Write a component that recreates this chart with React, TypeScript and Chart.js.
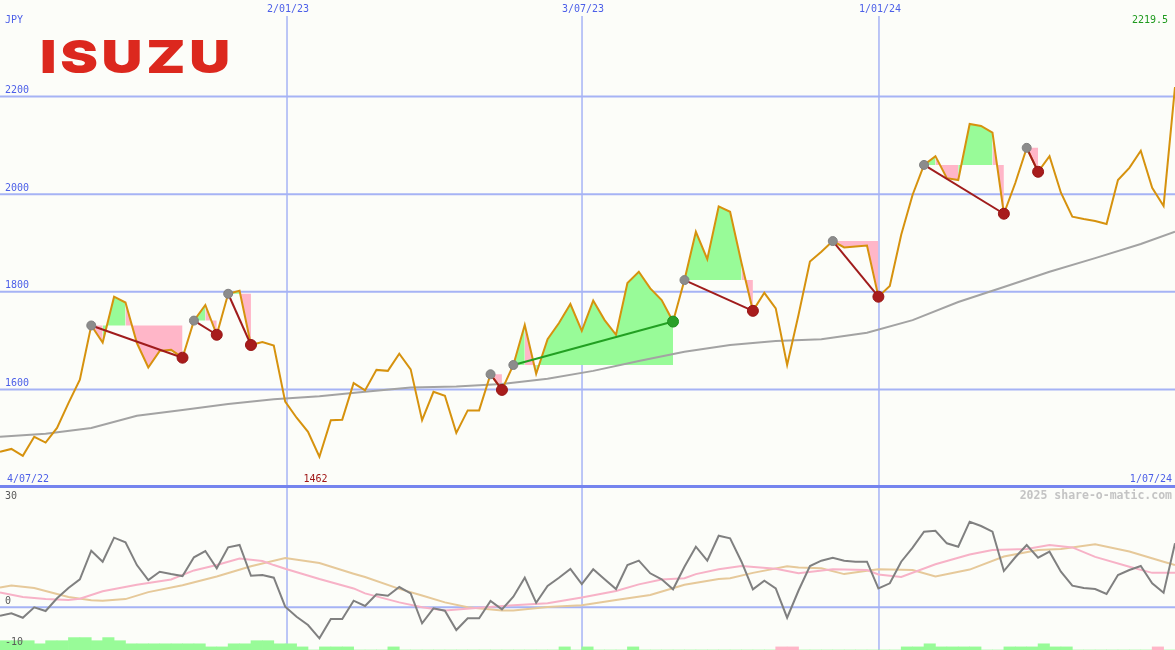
import React, { useEffect, useRef } from 'react';
import { Chart, registerables } from 'chart.js';

Chart.register(...registerables);

// ---------- DATA ----------
const companyName = 'ISUZU';
const currency = 'JPY';
const startLabel = '4/07/22';
const endLabel = '1/07/24';
const watermark = '2025 share-o-matic.com';

// weekly closes, index 0..103
const priceValues: number[] = [
  1472, 1478, 1464, 1503, 1491, 1521, 1572, 1620, 1731, 1696,
  1790, 1778, 1695, 1645, 1679, 1681, 1665, 1741, 1773, 1712,
  1796, 1802, 1691, 1697, 1690, 1575, 1542, 1513, 1462, 1537,
  1538, 1613, 1598, 1640, 1638, 1673, 1641, 1537, 1595, 1587,
  1511, 1557, 1557, 1631, 1599, 1650, 1732, 1632, 1703, 1736,
  1775, 1720, 1782, 1742, 1712, 1818, 1841, 1807, 1783, 1739,
  1824, 1923, 1867, 1975, 1964, 1859, 1761, 1798, 1766, 1650,
  1753, 1862, 1882, 1904, 1891, 1893, 1895, 1790, 1812, 1917,
  1999, 2060, 2078, 2033, 2029, 2144, 2140, 2126, 1960, 2023,
  2095, 2046, 2078, 2003, 1954, 1949, 1945, 1939, 2029, 2054,
  2089, 2013, 1976, 2219.5,
];

// long moving average (read at sample weeks)
const maIdx: number[] = [0, 4, 8, 12, 16, 20, 24, 28, 32, 36, 40, 44, 48, 52, 56, 60, 64, 68, 72, 76, 80, 84, 88, 92, 96, 100, 103];
const maValues: number[] = [1503, 1509, 1521, 1546, 1558, 1570, 1580, 1586, 1595, 1604, 1606, 1611, 1622, 1638, 1658, 1677, 1691, 1699, 1703, 1716, 1742, 1779, 1810, 1841, 1869, 1898, 1923];

// trades: entry / exit week index
const tradeEntries: number[] = [8, 17, 20, 43, 45, 60, 73, 81, 90];
const tradeExits: number[] = [16, 19, 22, 44, 59, 66, 77, 88, 91];

const priceGrid: number[] = [1600, 1800, 2000, 2200];
const dateIdx: number[] = [25.16, 51.02, 77.05];
const dateLabels: string[] = ['2/01/23', '3/07/23', '1/01/24'];

// lower panel oscillator
const oscValues: number[] = [
  -2.05, -1.46, -2.54, 0, -0.9, 2.2, 4.7, 6.83, 13.8, 11.12,
  16.98, 15.85, 10.3, 6.66, 8.68, 8.12, 7.63, 12.2, 13.73, 9.51,
  14.63, 15.2, 7.7, 7.88, 7.22, 0.15, -2.29, -4.32, -7.56, -2.85,
  -2.85, 1.61, 0.32, 3.17, 2.83, 4.95, 3.41, -3.9, -0.24, -0.83,
  -5.54, -2.68, -2.68, 1.54, -0.49, 2.59, 7.22, 1.12, 5.2, 7.22,
  9.34, 5.68, 9.27, 6.83, 4.46, 10.32, 11.37, 8.29, 6.83, 4.39,
  9.9, 14.78, 11.37, 17.46, 16.83, 11.12, 4.39, 6.49, 4.63, -2.54,
  4.1, 10.07, 11.37, 12.1, 11.37, 11.12, 11.12, 4.63, 5.85, 11.12,
  14.54, 18.44, 18.68, 15.61, 14.78, 20.88, 19.83, 18.44, 8.85, 12.2,
  15.2, 12.1, 13.56, 8.68, 5.27, 4.7, 4.46, 3.24, 7.88, 9.1,
  10.07, 5.85, 3.56, 15.6,
];
const pinkIdx: number[] = [0, 2, 4, 6, 7, 9, 12, 15, 17, 19, 21, 23, 24, 25, 28, 31, 32, 35, 37, 39, 42, 45, 48, 51, 54, 56, 58, 60, 61, 63, 65, 68, 70, 73, 76, 77, 79, 82, 85, 87, 90, 92, 94, 96, 99, 101, 103];
const pinkValues: number[] = [3.6, 2.5, 2.0, 1.8, 2.1, 3.9, 5.5, 6.8, 9.0, 10.3, 11.9, 11.3, 10.3, 9.4, 6.9, 4.6, 3.4, 1.2, 0, -0.8, -0.1, 0.5, 1.0, 2.4, 4.0, 5.6, 6.8, 7.1, 8.1, 9.3, 10.1, 9.4, 8.3, 9.3, 9.1, 8.0, 7.4, 10.5, 12.9, 14.0, 14.2, 15.2, 14.6, 12.3, 9.9, 8.4, 8.4];
const tanIdx: number[] = [0, 1, 3, 6, 8, 9, 11, 13, 16, 19, 22, 25, 28, 31, 32, 35, 37, 39, 41, 44, 45, 48, 51, 54, 57, 60, 63, 64, 66, 69, 70, 72, 74, 76, 77, 80, 82, 85, 88, 91, 93, 96, 99, 102, 103];
const tanValues: number[] = [4.8, 5.3, 4.7, 2.5, 1.7, 1.6, 2.0, 3.7, 5.4, 7.5, 10.0, 12.0, 10.8, 8.2, 7.4, 4.5, 2.9, 1.2, 0, -0.8, -0.8, 0.1, 0.5, 1.8, 3.0, 5.5, 6.9, 7.1, 8.4, 10.0, 9.7, 9.5, 8.1, 8.9, 9.3, 9.1, 7.5, 9.2, 12.4, 14.0, 14.2, 15.4, 13.6, 11.1, 10.3];
const oscLabels: number[] = [30, 0, -10];

// bottom signal histogram, one value per week interval
const greenBars: number[] = [
  3, 3, 3, 2, 3, 3, 4, 4, 3, 4,
  3, 2, 2, 2, 2, 2, 2, 2, 1, 1,
  2, 2, 3, 3, 2, 2, 1, 0, 1, 1,
  1, 0, 0, 0, 1, 0, 0, 0, 0, 0,
  0, 0, 0, 0, 0, 0, 0, 0, 0, 1,
  0, 1, 0, 0, 0, 1, 0, 0, 0, 0,
  0, 0, 0, 0, 0, 0, 0, 0, 0, 0,
  0, 0, 0, 0, 0, 0, 0, 0, 0, 1,
  1, 2, 1, 1, 1, 1, 0, 0, 1, 1,
  1, 2, 1, 1, 0, 0, 0, 0, 0, 0,
  0, 0, 0,
];
const pinkBarIdx: number[] = [68, 69, 101];
const pinkBarValues: number[] = [1, 1, 1];

// ---------- STYLE ----------
const W = 1175;
const MAIN_H = 487;
const SUB_H = 163;
const BG = '#fcfdf9';
const BLUE = '#4c5fe8';
const GRID = '#a6b3f5';
const AXIS = '#7584ee';
const MONO = '"DejaVu Sans Mono", monospace';
const GREEN_FILL = '#98fb98';
const PINK_FILL = '#ffb6c8';

function drawText(ctx: CanvasRenderingContext2D, text: string, x: number, y: number, color: string, align: CanvasTextAlign, font = `10px ${MONO}`) {
  ctx.save();
  ctx.font = font;
  ctx.fillStyle = color;
  ctx.textAlign = align;
  ctx.textBaseline = 'middle';
  ctx.fillText(text, x, y);
  ctx.restore();
}

function buildFillDatasets(): any[] {
  const out: any[] = [];
  tradeEntries.forEach((a, k) => {
    const b = tradeExits[k];
    const level = priceValues[a];
    const push = (s: number, e: number, c: string) => {
      const data = [];
      for (let j = s; j <= e; j++) data.push({ x: j, y: priceValues[j] });
      out.push({
        type: 'line', data, fill: { value: level }, backgroundColor: c,
        borderColor: 'transparent', borderWidth: 0, pointRadius: 0, order: 6,
      });
    };
    let runStart = a;
    let runColor: string | null = null;
    for (let i = a; i < b; i++) {
      const c = priceValues[i + 1] >= level ? GREEN_FILL : PINK_FILL;
      if (runColor === null) runColor = c;
      else if (c !== runColor) {
        push(runStart, i, runColor);
        runStart = i;
        runColor = c;
      }
    }
    push(runStart, b, runColor as string);
  });
  return out;
}

export default function App() {
  const mainRef = useRef<HTMLCanvasElement>(null);
  const subRef = useRef<HTMLCanvasElement>(null);

  useEffect(() => {
    document.body.style.margin = '0';
    const last = priceValues.length - 1;
    let minIdx = 0;
    priceValues.forEach((v, i) => { if (v < priceValues[minIdx]) minIdx = i; });

    const wins = tradeEntries.map((a, k) => priceValues[tradeExits[k]] > priceValues[a]);

    const tradeLines = tradeEntries.map((a, k) => ({
      type: 'line',
      data: [{ x: a, y: priceValues[a] }, { x: tradeExits[k], y: priceValues[tradeExits[k]] }],
      borderColor: wins[k] ? '#22a022' : '#a01c1c', borderWidth: 2, pointRadius: 0, order: 2,
    }));

    const mainPlugin = {
      id: 'mainDecor',
      beforeDatasetsDraw(chart: any) {
        const { ctx, scales } = chart;
        const x = scales.x, y = scales.y;
        ctx.save();
        ctx.strokeStyle = GRID;
        ctx.lineWidth = 2;
        priceGrid.forEach((v) => {
          const py = y.getPixelForValue(v);
          ctx.beginPath(); ctx.moveTo(0, py); ctx.lineTo(W, py); ctx.stroke();
        });
        ctx.lineWidth = 1.5;
        dateIdx.forEach((d) => {
          const px = x.getPixelForValue(d);
          ctx.beginPath(); ctx.moveTo(px, 16); ctx.lineTo(px, MAIN_H); ctx.stroke();
        });
        ctx.strokeStyle = AXIS;
        ctx.lineWidth = 2;
        const by = y.getPixelForValue(1400) - 1;
        ctx.beginPath(); ctx.moveTo(0, by); ctx.lineTo(W, by); ctx.stroke();
        ctx.restore();

        // logo
        ctx.save();
        ctx.font = `900 46px Inter, "DejaVu Sans"`;
        (ctx as any).letterSpacing = '3px';
        ctx.fillStyle = '#dc281e';
        ctx.textBaseline = 'alphabetic';
        const w = ctx.measureText(companyName).width - 3;
        ctx.translate(40, 73);
        ctx.scale(190 / w, 1);
        ctx.fillText(companyName, 0, 0);
        ctx.restore();
      },
      afterDatasetsDraw(chart: any) {
        const { ctx, scales } = chart;
        const x = scales.x, y = scales.y;
        drawText(ctx, currency, 5, 20, BLUE, 'left');
        priceGrid.forEach((v) => drawText(ctx, String(v), 5, y.getPixelForValue(v) - 6, BLUE, 'left'));
        dateIdx.forEach((d, k) => drawText(ctx, dateLabels[k], x.getPixelForValue(d) + 1, 9, BLUE, 'center'));
        drawText(ctx, startLabel, 7, 479, BLUE, 'left');
        drawText(ctx, endLabel, 1172, 479, BLUE, 'right');
        drawText(ctx, String(priceValues[minIdx]), x.getPixelForValue(minIdx) - 4, 479, '#a01818', 'center');
        drawText(ctx, String(priceValues[last]), 1168, 20, '#1e9a1e', 'right');
      },
    };

    const main = new Chart(mainRef.current as HTMLCanvasElement, {
      type: 'line',
      data: {
        datasets: [
          ...buildFillDatasets(),
          {
            type: 'line', data: maIdx.map((v, k) => ({ x: v, y: maValues[k] })),
            borderColor: '#a3a3a3', borderWidth: 2, pointRadius: 0, order: 5,
          },
          {
            type: 'line', data: priceValues.map((v, i) => ({ x: i, y: v })),
            borderColor: '#d6920e', borderWidth: 2, pointRadius: 0, order: 3,
          },
          ...tradeLines,
          {
            type: 'line', showLine: false,
            data: tradeEntries.map((a) => ({ x: a, y: priceValues[a] })),
            pointRadius: 4.5, pointBackgroundColor: '#8c8c8c', pointBorderColor: '#808080', pointBorderWidth: 1, order: 1,
          },
          {
            type: 'line', showLine: false,
            data: tradeExits.map((b) => ({ x: b, y: priceValues[b] })),
            pointRadius: 5.5,
            pointBackgroundColor: wins.map((w) => (w ? '#28a028' : '#a81c1c')),
            pointBorderColor: wins.map((w) => (w ? '#1e901e' : '#961414')),
            pointBorderWidth: 1, order: 0,
          },
        ] as any,
      },
      options: {
        animation: false, responsive: false, events: [],
        layout: { padding: 0, autoPadding: false },
        plugins: { legend: { display: false }, tooltip: { enabled: false } },
        scales: {
          x: { type: 'linear', min: 0, max: last, display: false },
          y: { type: 'linear', min: 1400, max: 2398, display: false },
        },
      } as any,
      plugins: [mainPlugin],
    });

    const subPlugin = {
      id: 'subDecor',
      beforeDatasetsDraw(chart: any) {
        const { ctx, scales } = chart;
        const x = scales.x, y = scales.y;
        ctx.save();
        ctx.strokeStyle = GRID;
        ctx.lineWidth = 2;
        const zy = y.getPixelForValue(0);
        ctx.beginPath(); ctx.moveTo(0, zy); ctx.lineTo(W, zy); ctx.stroke();
        ctx.lineWidth = 1.5;
        dateIdx.forEach((d) => {
          const px = x.getPixelForValue(d);
          ctx.beginPath(); ctx.moveTo(px, 0); ctx.lineTo(px, SUB_H); ctx.stroke();
        });
        ctx.strokeStyle = AXIS;
        ctx.lineWidth = 2;
        ctx.beginPath(); ctx.moveTo(0, 0); ctx.lineTo(W, 0); ctx.stroke();
        ctx.restore();
      },
      afterDatasetsDraw(chart: any) {
        const { ctx, scales } = chart;
        const y = scales.y;
        oscLabels.forEach((v) => drawText(ctx, String(v), 5, Math.max(y.getPixelForValue(v) - 6, 9), '#5a5a5a', 'left'));
        drawText(ctx, watermark, 1172, 9, '#c4c4c4', 'right', `bold 11.5px ${MONO}`);
      },
    };

    const sub = new Chart(subRef.current as HTMLCanvasElement, {
      type: 'line',
      data: {
        datasets: [
          {
            type: 'bar', yAxisID: 'yb', grouped: false,
            data: greenBars.map((v, i) => ({ x: i + 0.5, y: v })),
            backgroundColor: GREEN_FILL, borderWidth: 0, barPercentage: 1, categoryPercentage: 1, order: 5,
          },
          {
            type: 'bar', yAxisID: 'yb', grouped: false,
            data: pinkBarIdx.map((v, k) => ({ x: v + 0.5, y: pinkBarValues[k] })),
            backgroundColor: PINK_FILL, borderWidth: 0, barPercentage: 1, categoryPercentage: 1, order: 4,
          },
          {
            type: 'line', yAxisID: 'y', data: tanIdx.map((v, k) => ({ x: v, y: tanValues[k] })),
            borderColor: '#e6c99a', borderWidth: 2, pointRadius: 0, order: 3,
          },
          {
            type: 'line', yAxisID: 'y', data: pinkIdx.map((v, k) => ({ x: v, y: pinkValues[k] })),
            borderColor: '#f7b2c7', borderWidth: 2, pointRadius: 0, order: 2,
          },
          {
            type: 'line', yAxisID: 'y', data: oscValues.map((v, i) => ({ x: i, y: v })),
            borderColor: '#808080', borderWidth: 2, pointRadius: 0, order: 1,
          },
        ] as any,
      },
      options: {
        animation: false, responsive: false, events: [],
        layout: { padding: 0, autoPadding: false },
        plugins: { legend: { display: false }, tooltip: { enabled: false } },
        scales: {
          x: { type: 'linear', min: 0, max: last, display: false, offset: false },
          y: { type: 'linear', min: -10.41, max: 29.34, display: false },
          yb: { type: 'linear', min: 0, max: 52.6, display: false },
        },
      } as any,
      plugins: [subPlugin],
    });

    return () => { main.destroy(); sub.destroy(); };
  }, []);

  return (
    <div style={{ width: W, height: MAIN_H + SUB_H, background: BG, overflow: 'hidden' }}>
      <canvas ref={mainRef} width={W} height={MAIN_H} style={{ display: 'block', width: W, height: MAIN_H }} />
      <canvas ref={subRef} width={W} height={SUB_H} style={{ display: 'block', width: W, height: SUB_H }} />
    </div>
  );
}
